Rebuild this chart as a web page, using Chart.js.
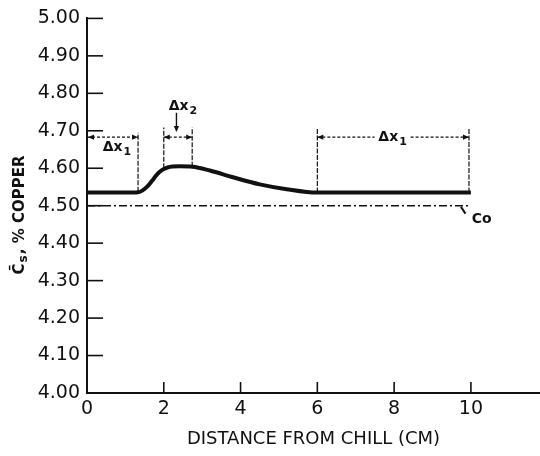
<!DOCTYPE html>
<html>
<head>
<meta charset="utf-8">
<script src="https://cdn.jsdelivr.net/npm/chart.js@4.4.1/dist/chart.umd.min.js"></script>
<style>
    html, body { margin: 0; padding: 0; background: #fff; }
</style>
</head>
<body>
<canvas id="chart" width="540" height="456"></canvas>
<script>
// Segregation profile
const distance = [0, 0.5, 1.0, 1.33, 1.45, 1.58, 1.70, 1.82, 1.95, 2.1, 2.4, 2.75, 3.2, 3.8, 4.5, 5.2, 6.0, 7, 8, 9, 10];
const copper = [4.535, 4.535, 4.535, 4.536, 4.541, 4.552, 4.567, 4.583, 4.595, 4.602, 4.605, 4.604, 4.594, 4.576, 4.557, 4.544, 4.535, 4.535, 4.535, 4.535, 4.535];

// Nominal composition Co
const coLevel = 4.50;
const coRange = [0, 10];

const xTicks = [0, 2, 4, 6, 8, 10];
const yTicks = [4.00, 4.10, 4.20, 4.30, 4.40, 4.50, 4.60, 4.70, 4.80, 4.90, 5.00];

const INK = '#111';
const FONT = '"DejaVu Sans", "Liberation Sans", sans-serif';

function arrowHead(ctx, x, y, dir) {
    const len = 6, half = 2.6;
    ctx.beginPath();
    ctx.moveTo(x, y);
    if (dir === 'left') { ctx.lineTo(x + len, y - half); ctx.lineTo(x + len, y + half); }
    if (dir === 'right') { ctx.lineTo(x - len, y - half); ctx.lineTo(x - len, y + half); }
    if (dir === 'down') { ctx.lineTo(x - half, y - len); ctx.lineTo(x + half, y - len); }
    ctx.closePath();
    ctx.fill();
}

function deltaLabel(ctx, x, y, sub) {
    ctx.font = '600 14px ' + FONT;
    const w1 = ctx.measureText('\u0394x').width;
    ctx.font = '600 11px ' + FONT;
    const w2 = ctx.measureText(sub).width;
    const start = x - (w1 + w2 + 1) / 2;
    ctx.textAlign = 'left';
    ctx.textBaseline = 'middle';
    ctx.font = '600 14px ' + FONT;
    ctx.fillText('\u0394x', start, y);
    ctx.font = '600 11px ' + FONT;
    ctx.fillText(sub, start + w1 + 1, y + 5);
}

// Inner tick marks, dimension lines and hand labels of the original figure
const sketchMarks = {
    id: 'sketchMarks',
    afterDatasetsDraw(chart) {
        const { ctx, chartArea, scales: { x, y } } = chart;
        const px = v => x.getPixelForValue(v);
        const py = v => y.getPixelForValue(v);
        ctx.save();
        ctx.strokeStyle = INK;
        ctx.fillStyle = INK;

        // ticks pointing into the plot
        ctx.lineWidth = 1.6;
        yTicks.forEach(t => {
            if (t === yTicks[0]) return;
            ctx.beginPath();
            ctx.moveTo(chartArea.left, py(t));
            ctx.lineTo(chartArea.left + 16, py(t));
            ctx.stroke();
        });
        xTicks.forEach(t => {
            if (t === xTicks[0]) return;
            ctx.beginPath();
            ctx.moveTo(px(t), chartArea.bottom);
            ctx.lineTo(px(t), chartArea.bottom - 11);
            ctx.stroke();
        });

        // extension lines
        ctx.lineWidth = 1.2;
        ctx.setLineDash([5, 1.5]);
        [[1.33, 4.537, 4.695], [2.0, 4.600, 4.709], [2.74, 4.604, 4.709],
         [6.0, 4.535, 4.705], [9.95, 4.535, 4.705]].forEach(([xv, y0, y1]) => {
            ctx.beginPath();
            ctx.moveTo(px(xv), py(y0));
            ctx.lineTo(px(xv), py(y1));
            ctx.stroke();
        });

        // dimension arrows
        ctx.setLineDash([3, 2]);
        const dimY = py(4.683);
        const hline = (a, b) => {
            ctx.beginPath();
            ctx.moveTo(a, dimY);
            ctx.lineTo(b, dimY);
            ctx.stroke();
        };
        hline(px(0), px(1.33));
        arrowHead(ctx, px(0) + 1, dimY, 'left');
        arrowHead(ctx, px(1.33), dimY, 'right');

        hline(px(2.0), px(2.74));
        arrowHead(ctx, px(2.0), dimY, 'left');
        arrowHead(ctx, px(2.74), dimY, 'right');

        const mid = px(7.96);
        hline(px(6.0), mid - 18);
        hline(mid + 18, px(9.95));
        arrowHead(ctx, px(6.0), dimY, 'left');
        arrowHead(ctx, px(9.95), dimY, 'right');

        // pointer to dx2
        ctx.setLineDash([]);
        ctx.lineWidth = 1.4;
        ctx.beginPath();
        ctx.moveTo(px(2.33), py(4.748));
        ctx.lineTo(px(2.33), py(4.700));
        ctx.stroke();
        arrowHead(ctx, px(2.33), py(4.697), 'down');

        deltaLabel(ctx, px(0.78), py(4.656), '1');
        deltaLabel(ctx, px(2.5), py(4.765), '2');
        deltaLabel(ctx, mid, dimY, '1');

        // Co label
        ctx.lineWidth = 2;
        ctx.beginPath();
        ctx.moveTo(px(9.74), py(4.497));
        ctx.lineTo(px(9.86), py(4.479));
        ctx.stroke();
        ctx.font = '600 14px ' + FONT;
        ctx.textAlign = 'left';
        ctx.textBaseline = 'middle';
        ctx.fillText('Co', px(10.02), py(4.463));

        // y title with barred C and subscript s
        ctx.translate(20, 215);
        ctx.rotate(-Math.PI / 2);
        const partC = ', % COPPER';
        ctx.font = '600 12px ' + FONT;
        const wS = ctx.measureText('s').width;
        ctx.font = '600 15px ' + FONT;
        const wA = ctx.measureText('C').width;
        const wC = ctx.measureText(partC).width;
        const sx = -(wA + wS + wC + 2) / 2;
        ctx.fillText('C\u0304', sx, 0);
        ctx.font = '600 12px ' + FONT;
        ctx.fillText('s', sx + wA + 1, 4);
        ctx.font = '600 15px ' + FONT;
        ctx.fillText(partC, sx + wA + wS + 2, 0);
        ctx.restore();
    }
};

const ctx = document.getElementById('chart').getContext('2d');
new Chart(ctx, {
    type: 'line',
    data: {
        datasets: [{
            label: 'Cs',
            data: distance.map((d, i) => ({ x: d, y: copper[i] })),
            borderColor: INK,
            borderWidth: 4,
            pointRadius: 0,
            cubicInterpolationMode: 'monotone',
            fill: false
        }, {
            label: 'Co',
            data: coRange.map(d => ({ x: d, y: coLevel })),
            borderColor: INK,
            borderWidth: 1.4,
            borderDash: [8, 3, 2, 3],
            pointRadius: 0,
            fill: false
        }]
    },
    options: {
        responsive: false,
        animation: false,
        layout: {
            padding: { top: 15, right: 0, left: 0, bottom: 0 }
        },
        plugins: {
            legend: { display: false },
            tooltip: { enabled: false }
        },
        scales: {
            x: {
                type: 'linear',
                min: 0,
                max: 11.8,
                afterBuildTicks: scale => { scale.ticks = xTicks.map(v => ({ value: v })); },
                afterFit: scale => { scale.height = 63; },
                grid: { display: false, drawTicks: false },
                border: { display: true, color: INK, width: 2 },
                ticks: {
                    color: INK,
                    padding: 5,
                    maxRotation: 0,
                    font: { family: FONT, size: 19 },
                    callback: v => String(v)
                },
                title: {
                    display: true,
                    text: 'DISTANCE FROM CHILL (CM)',
                    color: INK,
                    font: { family: FONT, size: 18 },
                    padding: { top: 4, bottom: 6 }
                }
            },
            y: {
                type: 'linear',
                min: 4.0,
                max: 5.0,
                afterBuildTicks: scale => { scale.ticks = yTicks.map(v => ({ value: v })); },
                afterFit: scale => { scale.width = 87; },
                grid: { display: false, drawTicks: false },
                border: { display: true, color: INK, width: 2 },
                ticks: {
                    color: INK,
                    padding: 7,
                    font: { family: FONT, size: 19 },
                    callback: v => Number(v).toFixed(2)
                }
            }
        }
    },
    plugins: [sketchMarks]
});
</script>
</body>
</html>
